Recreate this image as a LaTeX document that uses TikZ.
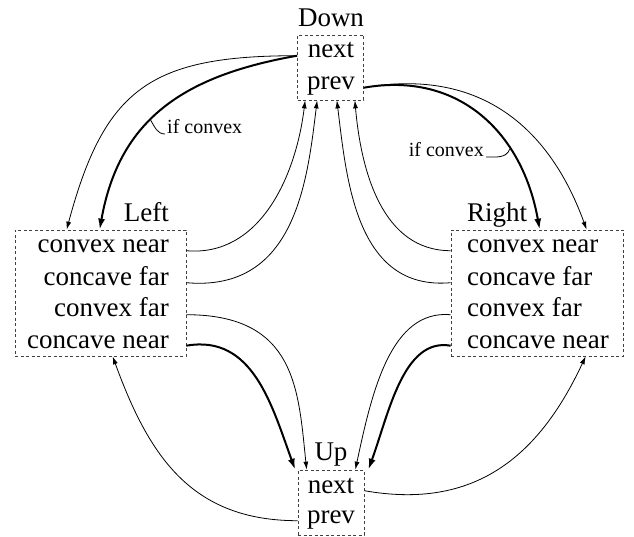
\documentclass[tikz,border=0pt]{standalone}
\usepackage{fontspec}
\setmainfont{Liberation Serif}
\usetikzlibrary{arrows.meta}
\begin{document}
\begin{tikzpicture}[x=1pt,y=1pt,
  txt/.style={inner sep=0pt, font=\fontsize{27}{32}\selectfont},
  small/.style={inner xsep=2pt, inner ysep=0pt, font=\fontsize{20}{24}\selectfont},
  dbox/.style={draw=black!75, dash pattern=on 3pt off 2.5pt, line width=0.7pt, inner sep=0pt},
  lnk/.style={line width=0.8pt, -{Latex[length=8pt,width=5pt]}},
  lnkb/.style={line width=2pt, -{Latex[length=11pt,width=7pt]}},
  pinline/.style={line width=0.8pt}
]
\useasboundingbox (0,0) rectangle (634,536);

% Down
\node[dbox, minimum width=66pt, minimum height=65pt] (D) at (330.5,468.5) {};
\node[txt, anchor=base] (dtitle) at (331,509) {Down};
\node[txt, anchor=base] (dnext) at (331,478) {next};
\node[txt, anchor=base] (dprev) at (331,446) {prev};

% Up
\node[dbox, minimum width=66pt, minimum height=65pt] (U) at (331,33.5) {};
\node[txt, anchor=base] (utitle) at (331,76) {Up};
\node[txt, anchor=base] (unext) at (331,43) {next};
\node[txt, anchor=base] (uprev) at (331,13) {prev};

% Left
\node[dbox, minimum width=171pt, minimum height=126pt] (L) at (100.5,243) {};
\node[txt, anchor=base east] (ltitle) at (169,314) {Left};
\node[txt, anchor=base east] (lcn) at (169,283) {convex near};
\node[txt, anchor=base east] (lcf) at (169,251) {concave far};
\node[txt, anchor=base east] (lvf) at (169,219) {convex far};
\node[txt, anchor=base east] (lcc) at (169,188) {concave near};

% Right
\node[dbox, minimum width=172pt, minimum height=126pt] (R) at (537,243) {};
\node[txt, anchor=base west] (rtitle) at (467,314) {Right};
\node[txt, anchor=base west] (rcn) at (467,283) {convex near};
\node[txt, anchor=base west] (rcf) at (467,251) {concave far};
\node[txt, anchor=base west] (rvf) at (467,219) {convex far};
\node[txt, anchor=base west] (rcc) at (467,188) {concave near};

% labels
\node[small, anchor=base west] (if1) at (165,402) {if convex};
\node[small, anchor=base east] (if2) at (486,379) {if convex};

% Down -> Left
\draw[lnk] (dnext.mid west -| D.west) to[out=180,in=75,looseness=1.3] ([xshift=52pt]L.north west);
\draw[lnkb] (dnext.mid west -| D.west) to[out=190,in=80,looseness=1.1] coordinate[pos=0.57] (c1) ([xshift=85pt]L.north west);
\draw[pinline] (c1) to[out=-60,in=180] (if1.base west);

% Left -> Down
\draw[lnk] (lcn.mid east -| L.east) to[out=-5,in=-97,out distance=73pt,in distance=78pt] ([xshift=8pt]D.south west);
\draw[lnk] (lcf.mid east -| L.east) to[out=-5,in=-97,out distance=110pt,in distance=80pt] ([xshift=20pt]D.south west);

% Down -> Right
\draw[lnkb] (dprev.mid east -| D.east) to[out=10,in=100,looseness=1.1] coordinate[pos=0.68] (c2) ([xshift=89pt]R.north west);
\draw[lnk] (dprev.mid east -| D.east) to[out=10,in=110,looseness=1.1] ([xshift=136pt]R.north west);
\draw[pinline] (c2) to[out=-110,in=0] (if2.base east);

% Right -> Down
\draw[lnk] (rcn.mid west -| R.west) to[out=180,in=-85,out distance=68pt,in distance=72pt] ([xshift=-9pt]D.south east);
\draw[lnk] (rcf.mid west -| R.west) to[out=185,in=-83,out distance=95pt,in distance=80pt] ([xshift=-27pt]D.south east);

% Left -> Up
\draw[lnk] (lvf.mid east -| L.east) to[out=0,in=96,out distance=110pt,in distance=80pt] ([xshift=9pt]U.north west);
\draw[lnkb] (lcc.mid east -| L.east) to[out=10,in=110,looseness=1.05] ([xshift=-2.5pt]U.north west);

% Right -> Up
\draw[lnk] (rvf.mid west -| R.west) to[out=175,in=78,out distance=60pt,in distance=80pt] ([xshift=-9pt]U.north east);
\draw[lnkb] (rcc.mid west -| R.west) to[out=170,in=70,out distance=48pt,in distance=60pt] ([xshift=4pt]U.north east);

% Up -> Right / Left
\draw[lnk] (unext.mid east -| U.east) to[out=-10,in=-115,looseness=1.1] ([xshift=135pt]R.south west);
\draw[lnk] (uprev.mid west -| U.west) to[out=180,in=-70,looseness=1.1] ([xshift=98pt]L.south west);
\end{tikzpicture}
\end{document}
